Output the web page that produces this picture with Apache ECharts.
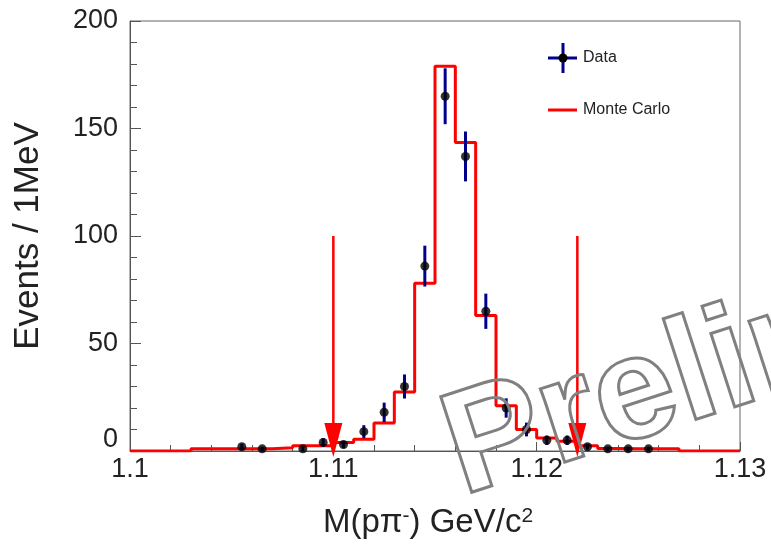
<!DOCTYPE html>
<html>
<head>
<meta charset="utf-8">
<script src="https://cdn.jsdelivr.net/npm/echarts@6/dist/echarts.min.js"></script>
<style>html,body{margin:0;padding:0;background:#fff}#c{width:771px;height:544px}</style>
</head>
<body>
<div id="c"></div>
<script>
// Monte Carlo histogram: lower bin edges (GeV) and contents
const mcBinLow = [1.100,1.101,1.102,1.103,1.104,1.105,1.106,1.107,1.108,1.109,
                  1.110,1.111,1.112,1.113,1.114,1.115,1.116,1.117,1.118,1.119,
                  1.120,1.121,1.122,1.123,1.124,1.125,1.126,1.127,1.128,1.129];
const mcBinHigh = 1.130;
const mcCounts = [0,0,0,1,1,1,1,1.5,2.5,2.5,
                  4,5.5,13,27.5,78,179,143.5,63,21,10,
                  6,4.5,2.5,1.2,1,1,1,0,0,0];
// Data points: bin centres, counts, errors
const dataX = [1.1055,1.1065,1.1085,1.1095,1.1105,1.1115,1.1125,1.1135,1.1145,1.1155,
               1.1165,1.1175,1.1185,1.1195,1.1205,1.1215,1.1225,1.1235,1.1245,1.1255];
const dataY = [2,1,1,4,3,9,18,30,86,165,137,65,20,10,5,5,2,1,1,1];
const dataErr = [1.4,1,1,2,1.7,3,4.5,5.6,9.5,13,11.6,8.2,4.5,3.2,2.2,2.2,1.4,1,1,1];
// Selection arrows
const arrowX = [1.110, 1.122];
const arrowTop = 100;
// Axis
const xTicks = {min:1.10, max:1.13, interval:0.01};
const yTicks = {min:0, max:200, interval:50};

const FONT = '"Liberation Sans", Arial, Helvetica, sans-serif';
const chart = echarts.init(document.getElementById('c'));

const mcLine = mcBinLow.map((x,i)=>[x, mcCounts[i]]);
mcLine.push([mcBinHigh, mcCounts[mcCounts.length-1]]);

const errData = dataX.map((x,i)=>[x, dataY[i], dataErr[i]]);
const ptData = dataX.map((x,i)=>[x, dataY[i]]);
const arrowData = arrowX.map(x=>[x, arrowTop]);

const axisCol = '#555';
chart.setOption({
  animation:false,
  backgroundColor:'#fff',
  grid:{left:130,right:31,top:21,bottom:93,show:true,borderColor:'#666',borderWidth:1},
  xAxis:{
    type:'value', min:xTicks.min, max:xTicks.max, interval:xTicks.interval,
    axisLine:{show:true,onZero:false,lineStyle:{color:axisCol,width:1}},
    axisTick:{show:true,inside:true,length:9,lineStyle:{color:axisCol}},
    minorTick:{show:true,splitNumber:5,length:6,lineStyle:{color:axisCol}},
    splitLine:{show:false}, minorSplitLine:{show:false},
    axisLabel:{fontSize:27,color:'#222',fontFamily:FONT,margin:5,
      formatter:v=>String(Math.round(v*100)/100)},
    name:'{n|M(pπ}{s|-}{n|) GeV/c}{s|2}',
    nameLocation:'middle', nameGap:55,
    nameTextStyle:{fontFamily:FONT,color:'#222',padding:[0,14,0,0],
      rich:{n:{fontSize:33,fontFamily:FONT,color:'#222'},
            s:{fontSize:21,fontFamily:FONT,color:'#222',verticalAlign:'top'}}}
  },
  yAxis:{
    type:'value', min:yTicks.min, max:yTicks.max, interval:yTicks.interval,
    axisLine:{show:true,lineStyle:{color:axisCol,width:1}},
    axisTick:{show:true,inside:true,length:11,lineStyle:{color:axisCol}},
    minorTick:{show:true,splitNumber:5,length:7,lineStyle:{color:axisCol}},
    splitLine:{show:false}, minorSplitLine:{show:false},
    axisLabel:{fontSize:27,color:'#222',fontFamily:FONT,margin:12,
      formatter:v=> v===0 ? '{z|0}' : String(v),
      rich:{z:{fontSize:27,fontFamily:FONT,color:'#222',padding:[0,0,22,0]}}},
    name:'Events / 1MeV', nameLocation:'middle', nameRotate:90, nameGap:84,
    nameTextStyle:{fontSize:35,fontFamily:FONT,color:'#222'}
  },
  series:[
    {
      type:'custom', name:'arrows', data:arrowData, clip:false, z:3,
      renderItem:(params, api)=>{
        const top = api.coord([api.value(0), api.value(1)]);
        const base = api.coord([api.value(0), 0]);
        const tipY = base[1] + 6, headTop = base[1] - 28, hw = 9;
        return {type:'group', children:[
          {type:'line', shape:{x1:top[0],y1:top[1],x2:top[0],y2:headTop},
           style:{stroke:'#ff0000',lineWidth:2.5}},
          {type:'polygon', shape:{points:[[top[0]-hw,headTop],[top[0]+hw,headTop],[top[0],tipY]]},
           style:{fill:'#ff0000'}}
        ]};
      }
    },
    {
      type:'line', name:'Monte Carlo', data:mcLine, step:'end', symbol:'none',
      lineStyle:{color:'#ff0000',width:3}, z:4
    },
    {
      type:'custom', name:'errors', data:errData, z:5,
      renderItem:(params, api)=>{
        const x = api.value(0), y = api.value(1), e = api.value(2);
        const p1 = api.coord([x, y-e]), p2 = api.coord([x, y+e]);
        return {type:'line', shape:{x1:p1[0],y1:p1[1],x2:p2[0],y2:p2[1]},
                style:{stroke:'#00008c',lineWidth:3}};
      }
    },
    {
      type:'scatter', name:'Data', data:ptData, symbol:'circle', symbolSize:9,
      itemStyle:{color:'#000'}, z:6
    }
  ],
  graphic:[
    {type:'line', shape:{x1:563,y1:43,x2:563,y2:73}, style:{stroke:'#00008c',lineWidth:3}, z:10},
    {type:'line', shape:{x1:548,y1:58,x2:577,y2:58}, style:{stroke:'#00008c',lineWidth:3}, z:10},
    {type:'circle', shape:{cx:563,cy:58,r:4.5}, style:{fill:'#000'}, z:11},
    {type:'text', x:583, y:58, style:{text:'Data', font:'16px '+FONT, fill:'#222', verticalAlign:'middle'}, z:10},
    {type:'line', shape:{x1:548,y1:110,x2:577,y2:110}, style:{stroke:'#ff0000',lineWidth:3}, z:10},
    {type:'text', x:583, y:110, style:{text:'Monte Carlo', font:'16px '+FONT, fill:'#222', verticalAlign:'middle'}, z:10},
    {type:'text', x:450, y:457, rotation:18*Math.PI/180,
     style:{text:'Preliminary', font:'bold 146px '+FONT, fill:'rgba(0,0,0,0)', stroke:'#808080', lineWidth:3, verticalAlign:'middle'}, z:20}
  ]
});
</script>
</body>
</html>
